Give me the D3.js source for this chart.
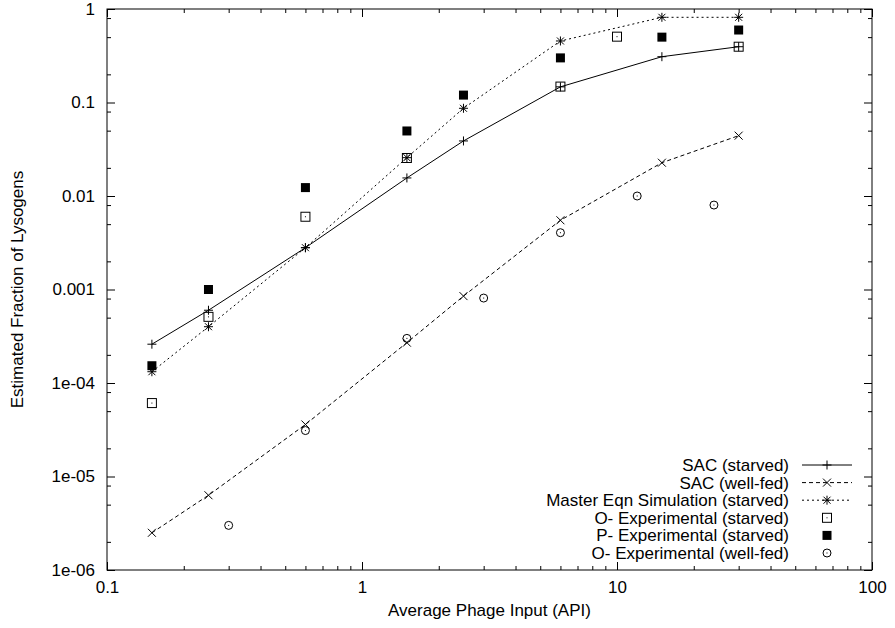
<!DOCTYPE html>
<html>
<head>
<meta charset="utf-8">
<script src="https://cdn.jsdelivr.net/npm/d3@7"></script>
<style>
  body { margin: 0; background: #fff; }
  text { font-family: "Liberation Sans", Arial, Helvetica, sans-serif; fill: #000; }
</style>
</head>
<body>
<div id="chart"></div>
<script>
// data
const sacStarvedX = [0.15, 0.25, 0.6, 1.5, 2.5, 6, 15, 30];
const sacStarvedY = [2.6e-4, 6.0e-4, 2.8e-3, 0.0156, 0.0388, 0.147, 0.309, 0.395];

const sacFedX = [0.15, 0.25, 0.6, 1.5, 2.5, 6, 15, 30];
const sacFedY = [2.5e-6, 6.3e-6, 3.6e-5, 2.7e-4, 8.5e-4, 5.5e-3, 0.0227, 0.0442];

const masterX = [0.15, 0.25, 0.6, 1.5, 2.5, 6, 15, 30];
const masterY = [1.32e-4, 4.0e-4, 2.8e-3, 0.0257, 0.0867, 0.455, 0.815, 0.815];

const oStarvedX = [0.15, 0.25, 0.6, 1.5, 6, 10, 30];
const oStarvedY = [6.1e-5, 5.1e-4, 6.0e-3, 0.0255, 0.148, 0.506, 0.395];

const pStarvedX = [0.15, 0.25, 0.6, 1.5, 2.5, 6, 15, 30];
const pStarvedY = [1.53e-4, 1.0e-3, 0.0123, 0.0496, 0.12, 0.30, 0.50, 0.596];

const oFedX = [0.3, 0.6, 1.5, 3, 6, 12, 24];
const oFedY = [3.0e-6, 3.1e-5, 3.0e-4, 8.1e-4, 4.05e-3, 0.01, 0.008];

const xTicks = [0.1, 1, 10, 100];
const xTickLabels = ["0.1", "1", "10", "100"];
const yTicks = [1, 0.1, 0.01, 0.001, 1e-4, 1e-5, 1e-6];
const yTickLabels = ["1", "0.1", "0.01", "0.001", "1e-04", "1e-05", "1e-06"];

const legendNames = [
    "SAC (starved)",
    "SAC (well-fed)",
    "Master Eqn Simulation (starved)",
    "O- Experimental (starved)",
    "P- Experimental (starved)",
    "O- Experimental (well-fed)"
];

function setupChart() {
    const width = 895, height = 628;
    const left = 107, right = 872, top = 9, bottom = 570;
    const fontSize = "17px";

    let svg = d3.select("#chart")
        .append("svg")
        .attr("width", width)
        .attr("height", height);

    let x = d3.scaleLog().domain([0.1, 100]).range([left, right]);
    let y = d3.scaleLog().domain([1e-6, 1]).range([bottom, top]);

    // minor ticks: 2..9 on x, 2,5,8 on y (as in the original)
    let xMinor = [];
    for (let e = -1; e < 2; e++) {
        for (let m = 2; m <= 9; m++) xMinor.push(m * Math.pow(10, e));
    }
    let yMinor = [];
    for (let e = -6; e < 0; e++) {
        [2, 5, 8].forEach(m => yMinor.push(m * Math.pow(10, e)));
    }

    function styleAxis(g) {
        g.select(".domain").remove();
        g.selectAll("line").attr("stroke", "#000").attr("stroke-width", 1);
        g.selectAll("text").style("font-size", fontSize).attr("fill", "#000");
    }

    // major ticks with labels
    svg.append("g").attr("transform", "translate(0," + bottom + ")")
        .call(d3.axisBottom(x).tickValues(xTicks).tickFormat((d, i) => xTickLabels[i])
            .tickSize(-8).tickPadding(11))
        .call(styleAxis);
    svg.append("g").attr("transform", "translate(0," + top + ")")
        .call(d3.axisTop(x).tickValues(xTicks).tickFormat("").tickSize(-8))
        .call(styleAxis);
    svg.append("g").attr("transform", "translate(" + left + ",0)")
        .call(d3.axisLeft(y).tickValues(yTicks).tickFormat((d, i) => yTickLabels[i])
            .tickSize(-8).tickPadding(12))
        .call(styleAxis);
    svg.append("g").attr("transform", "translate(" + right + ",0)")
        .call(d3.axisRight(y).tickValues(yTicks).tickFormat("").tickSize(-8))
        .call(styleAxis);

    // minor ticks
    svg.append("g").attr("transform", "translate(0," + bottom + ")")
        .call(d3.axisBottom(x).tickValues(xMinor).tickFormat("").tickSize(-4)).call(styleAxis);
    svg.append("g").attr("transform", "translate(0," + top + ")")
        .call(d3.axisTop(x).tickValues(xMinor).tickFormat("").tickSize(-4)).call(styleAxis);
    svg.append("g").attr("transform", "translate(" + left + ",0)")
        .call(d3.axisLeft(y).tickValues(yMinor).tickFormat("").tickSize(-4)).call(styleAxis);
    svg.append("g").attr("transform", "translate(" + right + ",0)")
        .call(d3.axisRight(y).tickValues(yMinor).tickFormat("").tickSize(-4)).call(styleAxis);

    // frame
    svg.append("rect")
        .attr("x", left).attr("y", top)
        .attr("width", right - left).attr("height", bottom - top)
        .attr("fill", "none").attr("stroke", "#000").attr("stroke-width", 1);

    // axis titles
    svg.append("text")
        .attr("x", (left + right) / 2).attr("y", 616)
        .attr("text-anchor", "middle").style("font-size", fontSize)
        .text("Average Phage Input (API)");
    svg.append("text")
        .attr("transform", "translate(23," + (top + bottom) / 2 + ") rotate(-90)")
        .attr("text-anchor", "middle").style("font-size", fontSize)
        .text("Estimated Fraction of Lysogens");

    // symbols
    function drawSymbol(g, type) {
        const s = 4.5;
        if (type === "plus" || type === "star") {
            g.append("path").attr("d", `M${-s},0H${s}M0,${-s}V${s}`)
                .attr("stroke", "#000").attr("fill", "none");
        }
        if (type === "cross" || type === "star") {
            const c = type === "star" ? 3.5 : 4;
            g.append("path").attr("d", `M${-c},${-c}L${c},${c}M${-c},${c}L${c},${-c}`)
                .attr("stroke", "#000").attr("fill", "none");
        }
        if (type === "box") {
            g.append("rect").attr("x", -4.5).attr("y", -4.5).attr("width", 9).attr("height", 9)
                .attr("fill", "none").attr("stroke", "#000");
            g.append("rect").attr("x", -0.5).attr("y", -0.5).attr("width", 1).attr("height", 1).attr("fill", "#000");
        }
        if (type === "fbox") {
            g.append("rect").attr("x", -4.5).attr("y", -4.5).attr("width", 9).attr("height", 9)
                .attr("fill", "#000");
        }
        if (type === "circle") {
            g.append("circle").attr("r", 4).attr("fill", "none").attr("stroke", "#000");
            g.append("rect").attr("x", -0.5).attr("y", -0.5).attr("width", 1).attr("height", 1).attr("fill", "#000");
        }
    }

    const series = [
        { xs: sacStarvedX, ys: sacStarvedY, dash: null, sym: "plus", line: true },
        { xs: sacFedX, ys: sacFedY, dash: "4,3", sym: "cross", line: true },
        { xs: masterX, ys: masterY, dash: "2,3", sym: "star", line: true },
        { xs: oStarvedX, ys: oStarvedY, dash: null, sym: "box", line: false },
        { xs: pStarvedX, ys: pStarvedY, dash: null, sym: "fbox", line: false },
        { xs: oFedX, ys: oFedY, dash: null, sym: "circle", line: false }
    ];

    let lineGen = d3.line().x(d => x(d[0])).y(d => y(d[1]));

    series.forEach(function (s) {
        const pts = s.xs.map((v, i) => [v, s.ys[i]]);
        if (s.line) {
            svg.append("path")
                .attr("d", lineGen(pts))
                .attr("fill", "none").attr("stroke", "#000").attr("stroke-width", 1)
                .attr("stroke-dasharray", s.dash);
        }
        pts.forEach(function (p) {
            let g = svg.append("g").attr("transform", "translate(" + x(p[0]) + "," + y(p[1]) + ")");
            drawSymbol(g, s.sym);
        });
    });

    // legend
    const legX = 789, legLine0 = 802, legLine1 = 852, legY0 = 465, legStep = 17.6;
    series.forEach(function (s, i) {
        const cy = legY0 + i * legStep;
        svg.append("text")
            .attr("x", legX).attr("y", cy + 6)
            .attr("text-anchor", "end").style("font-size", fontSize)
            .text(legendNames[i]);
        if (s.line) {
            svg.append("line")
                .attr("x1", legLine0).attr("x2", legLine1).attr("y1", cy).attr("y2", cy)
                .attr("stroke", "#000").attr("stroke-dasharray", s.dash);
        }
        let g = svg.append("g").attr("transform", "translate(" + (legLine0 + legLine1) / 2 + "," + cy + ")");
        drawSymbol(g, s.sym);
    });
}

setupChart();
</script>
</body>
</html>
